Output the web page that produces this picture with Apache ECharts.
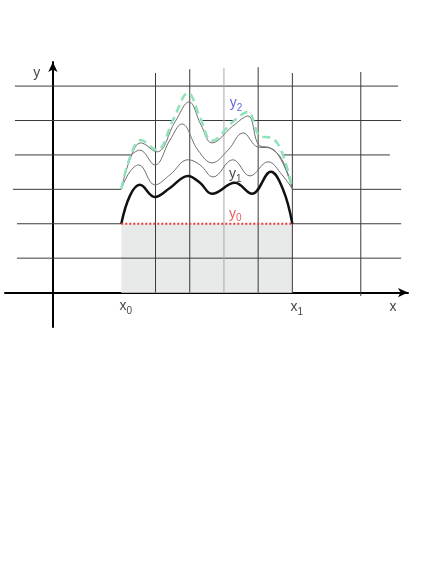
<!DOCTYPE html>
<html>
<head>
<meta charset="utf-8">
<script src="https://cdn.jsdelivr.net/npm/echarts@6/dist/echarts.min.js"></script>
<style>
  html, body { margin: 0; padding: 0; background: #fff; }
  #chart { width: 436px; height: 564px; }
</style>
</head>
<body>
<div id="chart"></div>
<script>
// curve values, x in grid units (x0 = 2, x1 = 7)
var y1X = [2.0, 2.25, 2.54, 2.98, 3.42, 3.95, 4.3, 4.65, 5.32, 5.82, 6.37, 6.73, 7.0];
var y1Y = [2.0, 2.81, 3.13, 2.78, 3.04, 3.39, 3.19, 2.87, 3.19, 2.87, 3.51, 2.99, 2.0];

var lowX = [2.0, 2.25, 2.51, 2.98, 3.42, 3.95, 4.3, 4.68, 5.26, 5.76, 6.29, 6.7, 7.0];
var lowY = [3.01, 3.51, 3.71, 3.13, 3.42, 3.86, 3.71, 3.36, 3.86, 3.39, 3.8, 3.42, 3.01];

var midX = [2.28, 2.54, 2.98, 3.42, 3.77, 4.24, 4.65, 5.12, 5.56, 5.99, 6.35, 6.7, 7.0];
var midY = [4.0, 4.14, 3.71, 4.43, 4.9, 4.14, 3.77, 4.14, 4.64, 4.23, 4.2, 3.8, 3.01];

var upX = [2.0, 2.28, 2.57, 3.04, 3.57, 3.98, 4.33, 4.65, 5.26, 5.7, 6.02, 6.35, 6.7, 7.0];
var upY = [3.01, 3.94, 4.35, 4.09, 4.96, 5.54, 4.87, 4.35, 4.84, 5.13, 4.29, 4.2, 3.86, 3.01];

var y2X = [2.0, 2.28, 2.57, 3.04, 3.51, 3.95, 4.3, 4.65, 5.26, 5.7, 6.05, 6.4, 6.7, 7.0];
var y2Y = [3.01, 4.0, 4.43, 4.14, 5.01, 5.8, 5.1, 4.41, 4.96, 5.25, 4.55, 4.49, 4.06, 3.01];

var x0 = 2, x1 = 7, y0 = 2;

// grid lines
var hLineY = [1, 2, 3, 4, 5, 6];
var hLineFrom = [-1.05, -1.05, -1.17, -1.11, -1.11, -1.11];
var hLineTo = [10.18, 10.18, 10.18, 9.85, 10.18, 10.09];
var vLineX = [3, 4, 5, 6, 7, 9];
var vLineTop = [6.38, 6.49, 6.52, 6.55, 6.38, 6.41];
var vLineBottom = [0, 0, 0, 0, 0, -0.1];

function pairs(xs, ys) {
    return xs.map(function (x, i) { return [x, ys[i]]; });
}

var chart = echarts.init(document.getElementById("chart"));

var series = [];

// horizontal lines (hidden under the fills)
hLineY.forEach(function (y, i) {
    series.push({
        type: "line",
        silent: true,
        symbol: "none",
        z: y === 1 ? 5 : 1,
        lineStyle: { color: "#3a3a3a", width: 1 },
        data: [[hLineFrom[i], y], [hLineTo[i], y]]
    });
});

// white area under y2
series.push({
    type: "line",
    silent: true,
    symbol: "none",
    smooth: 0.4,
    z: 2,
    lineStyle: { width: 0 },
    areaStyle: { color: "#ffffff", opacity: 1, origin: "auto" },
    data: pairs(y2X, y2Y)
});

// grey area between x0 and x1, under y0
series.push({
    type: "line",
    silent: true,
    symbol: "none",
    z: 3,
    lineStyle: { width: 0 },
    areaStyle: { color: "#e8eaea", opacity: 1, origin: "auto" },
    data: [[x0, y0], [x1, y0]]
});

// vertical lines
vLineX.forEach(function (x, i) {
    series.push({
        type: "line",
        silent: true,
        symbol: "none",
        z: 6,
        lineStyle: { color: x === 5 ? "#a8a8a8" : "#3a3a3a", width: 1 },
        data: [[x, vLineBottom[i]], [x, vLineTop[i]]]
    });
});

// thin grey curves
[[lowX, lowY], [midX, midY], [upX, upY]].forEach(function (c) {
    series.push({
        type: "line",
        silent: true,
        symbol: "none",
        smooth: 0.4,
        z: 7,
        lineStyle: { color: "#6f6f6f", width: 1 },
        data: pairs(c[0], c[1])
    });
});

// y1
series.push({
    type: "line",
    silent: true,
    symbol: "none",
    smooth: 0.4,
    z: 8,
    lineStyle: { color: "#111111", width: 2.5 },
    data: pairs(y1X, y1Y)
});

// y2 dashed
series.push({
    type: "line",
    silent: true,
    symbol: "none",
    smooth: 0.4,
    z: 9,
    lineStyle: { color: "#8fe3b8", width: 2.5, type: [8, 5] },
    data: pairs(y2X, y2Y)
});

// y0 dotted
series.push({
    type: "line",
    silent: true,
    symbol: "none",
    z: 9,
    lineStyle: { color: "#e8383a", width: 2, type: [2, 2] },
    data: [[x0, y0], [x1, y0]]
});

// labels
var labelData = [
    { value: [-0.47, 6.38], main: "y", sub: "", color: "#111" },
    { value: [9.94, -0.41], main: "x", sub: "", color: "#111" },
    { value: [2.13, -0.45], main: "x", sub: "0", color: "#111" },
    { value: [7.13, -0.47], main: "x", sub: "1", color: "#111" },
    { value: [5.35, 5.47], main: "y", sub: "2", color: "#3b3bd6" },
    { value: [5.33, 3.39], main: "y", sub: "1", color: "#111" },
    { value: [5.33, 2.25], main: "y", sub: "0", color: "#e03434" }
];
series.push({
    type: "scatter",
    silent: true,
    symbolSize: 0,
    z: 10,
    data: labelData.map(function (d) {
        return {
            value: d.value,
            label: {
                show: true,
                position: "inside",
                formatter: d.sub ? "{a|" + d.main + "}{s|" + d.sub + "}" : "{a|" + d.main + "}",
                rich: {
                    a: { fontSize: 14, lineHeight: 14, verticalAlign: "top", color: d.color, fontFamily: "Liberation Sans" },
                    s: { fontSize: 10, lineHeight: 17, verticalAlign: "bottom", color: d.color, fontFamily: "Liberation Sans" }
                }
            }
        };
    })
});

chart.setOption({
    animation: false,
    backgroundColor: "#ffffff",
    grid: { left: 5, right: 28, top: 62, bottom: 237 },
    xAxis: {
        type: "value",
        min: -1.4,
        max: 10.38,
        axisLine: {
            onZero: true,
            lineStyle: { color: "#000", width: 2 },
            symbol: ["none", "arrow"],
            symbolSize: [7, 10]
        },
        axisTick: { show: false },
        axisLabel: { show: false },
        splitLine: { show: false }
    },
    yAxis: {
        type: "value",
        min: -1,
        max: 6.7,
        axisLine: {
            show: true,
            onZero: true,
            lineStyle: { color: "#000", width: 2 },
            symbol: ["none", "arrow"],
            symbolSize: [7, 10]
        },
        axisTick: { show: false },
        axisLabel: { show: false },
        splitLine: { show: false }
    },
    series: series
});
</script>
</body>
</html>
